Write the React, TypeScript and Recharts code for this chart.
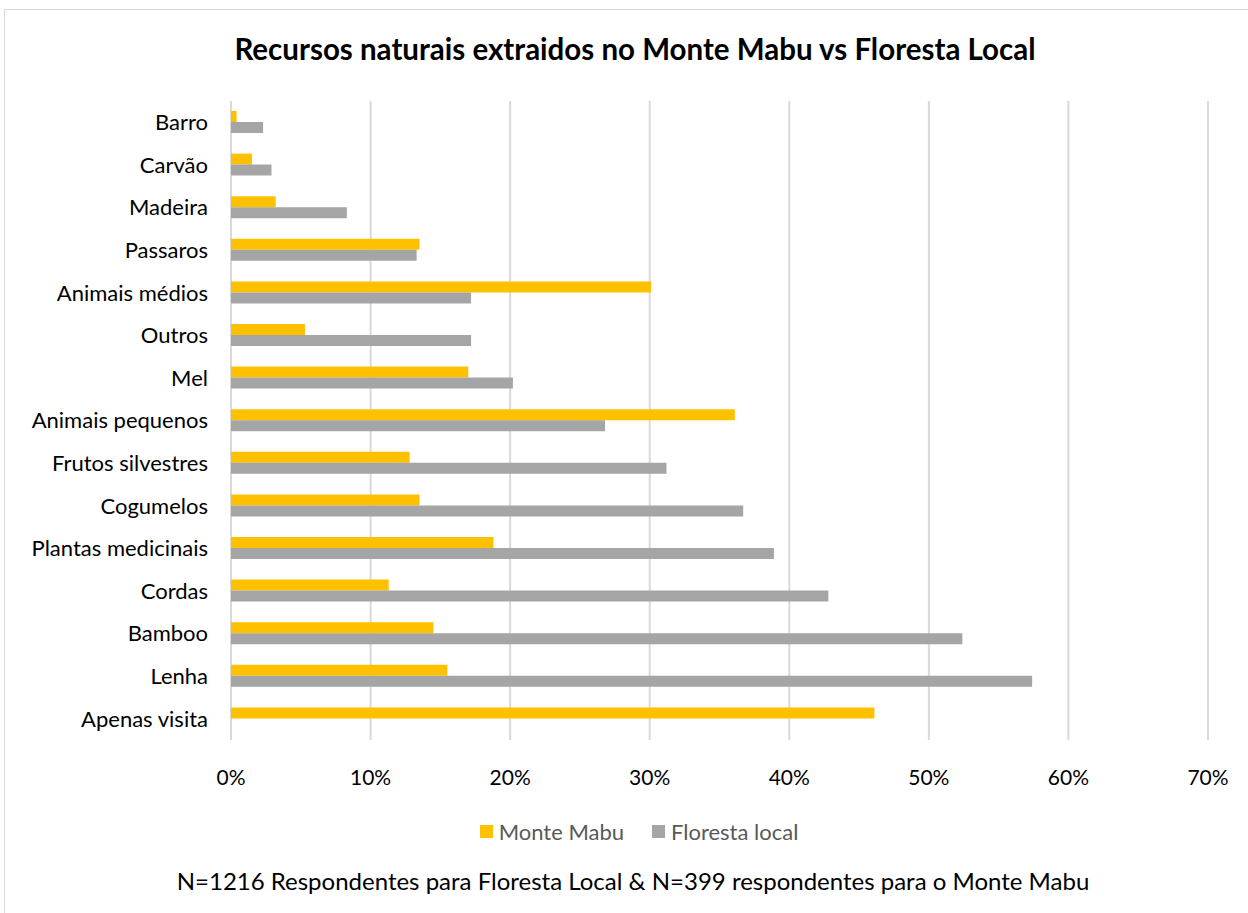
import { Bar, BarChart, CartesianGrid, XAxis, YAxis } from "recharts";

const categories = [
  "Barro",
  "Carvão",
  "Madeira",
  "Passaros",
  "Animais médios",
  "Outros",
  "Mel",
  "Animais pequenos",
  "Frutos silvestres",
  "Cogumelos",
  "Plantas medicinais",
  "Cordas",
  "Bamboo",
  "Lenha",
  "Apenas visita",
];

const monteMabu = [
  0.004, 0.015, 0.032, 0.135, 0.301, 0.053, 0.17, 0.361, 0.128, 0.135, 0.188,
  0.113, 0.145, 0.155, 0.461,
];

const florestaLocal = [
  0.023, 0.029, 0.083, 0.133, 0.172, 0.172, 0.202, 0.268, 0.312, 0.367, 0.389,
  0.428, 0.524, 0.574, 0,
];

const xTicks = [0, 0.1, 0.2, 0.3, 0.4, 0.5, 0.6, 0.7];

const data = categories.map((name, i) => ({
  name,
  mm: monteMabu[i],
  fl: florestaLocal[i],
}));

const FONT = "Lato, 'Noto Sans', sans-serif";
const YELLOW = "#FFC000";
const GREY = "#A5A5A5";

function LegendBox() {
  const item = (color: string, label: string) => (
    <span style={{ display: "inline-flex", alignItems: "center", margin: "0 14px" }}>
      <span
        style={{ width: 13, height: 13, background: color, display: "inline-block", marginRight: 6 }}
      />
      <span style={{ color: "#595959", fontSize: 22 }}>{label}</span>
    </span>
  );
  return (
    <div style={{ textAlign: "center", fontFamily: FONT }}>
      {item(YELLOW, "Monte Mabu")}
      {item(GREY, "Floresta local")}
    </div>
  );
}

export default function App() {
  return (
    <div
      style={{
        position: "absolute",
        left: 0,
        top: 0,
        width: 1248,
        height: 913,
        background: "#fff",
        overflow: "hidden",
        fontFamily: FONT,
      }}
    >
      <div
        style={{
          position: "absolute",
          left: 4,
          top: 9,
          width: 1300,
          height: 1000,
          border: "1px solid #d9d9d9",
        }}
      />
      <div
        style={{
          position: "absolute",
          left: 0,
          top: 31,
          width: 1270,
          textAlign: "center",
          fontSize: 29.5,
          fontWeight: 700,
          color: "#000",
        }}
      >
        Recursos naturais extraidos no Monte Mabu vs Floresta Local
      </div>
      <div style={{ position: "absolute", left: 0, top: 0 }}>
        <BarChart
          width={1248}
          height={913}
          data={data}
          layout="vertical"
          margin={{ top: 101, right: 40, bottom: 143, left: 0 }}
          barGap={0}
          barSize={11}
        >
          <CartesianGrid horizontal={false} stroke="#d9d9d9" strokeWidth={2} />
          <XAxis
            type="number"
            domain={[0, 0.7]}
            ticks={xTicks}
            tickFormatter={(v: number) => `${Math.round(v * 100)}%`}
            axisLine={false}
            tickLine={false}
            tickMargin={24}
            tick={{ fill: "#000", fontSize: 21, fontFamily: FONT }}
          />
          <YAxis
            type="category"
            dataKey="name"
            width={231}
            axisLine={false}
            tickLine={false}
            tickMargin={17}
            interval={0}
            tick={{ fill: "#000", fontSize: 22, fontFamily: FONT }}
          />
          <Bar dataKey="mm" name="Monte Mabu" fill={YELLOW} isAnimationActive={false} />
          <Bar dataKey="fl" name="Floresta local" fill={GREY} isAnimationActive={false} />
        </BarChart>
      </div>
      <div style={{ position: "absolute", left: 6, top: 818, width: 1266 }}>
        <LegendBox />
      </div>
      <div
        style={{
          position: "absolute",
          left: 0,
          top: 866,
          width: 1266,
          textAlign: "center",
          fontSize: 24,
          color: "#000",
        }}
      >
        N=1216 Respondentes para Floresta Local &amp; N=399 respondentes para o Monte Mabu
      </div>
    </div>
  );
}
